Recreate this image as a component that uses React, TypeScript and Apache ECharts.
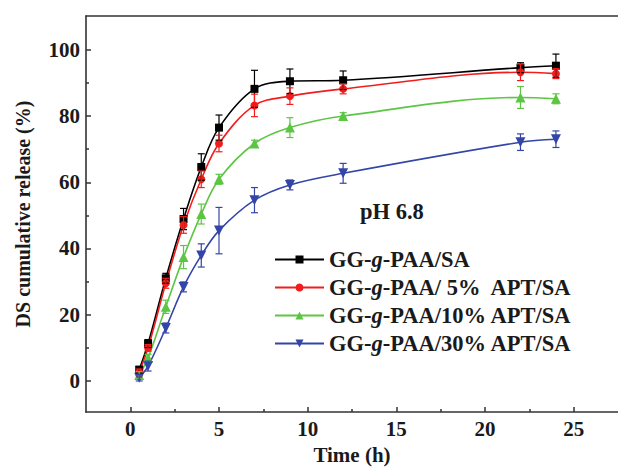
import React, { useEffect, useRef } from "react";
import * as echarts from "echarts";

const times = [0.5, 1, 2, 3, 4, 5, 7, 9, 12, 22, 24];

const seriesNames = [
  "GG-g-PAA/SA",
  "GG-g-PAA/ 5%  APT/SA",
  "GG-g-PAA/10% APT/SA",
  "GG-g-PAA/30% APT/SA",
];

const valuesSA = [3.4, 11.3, 31.0, 48.9, 64.6, 76.5, 88.2, 90.5, 90.8, 94.6, 95.2];
const errorsSA = [1.0, 1.2, 1.5, 3.2, 4.0, 3.8, 5.6, 3.7, 2.8, 1.5, 3.5];

const values5 = [2.6, 10.0, 29.5, 47.1, 60.9, 71.7, 83.2, 86.0, 88.2, 93.2, 92.8];
const errors5 = [1.0, 1.0, 1.5, 2.5, 2.5, 2.5, 3.4, 2.5, 1.5, 2.5, 1.5];

const values10 = [1.8, 7.0, 22.4, 37.4, 50.4, 60.9, 71.7, 76.5, 80.0, 85.6, 85.2];
const errors10 = [1.0, 1.0, 2.0, 3.5, 3.0, 1.5, 1.0, 3.0, 1.0, 3.3, 1.5];

const values30 = [1.0, 4.5, 16.0, 28.4, 37.9, 45.4, 54.6, 59.2, 62.7, 72.1, 73.0];
const errors30 = [1.0, 1.5, 1.5, 1.5, 3.5, 7.0, 3.8, 1.5, 3.0, 2.5, 2.5];

const xMajorTicks = [0, 5, 10, 15, 20, 25];
const xMinorTicks = [2.5, 7.5, 12.5, 17.5, 22.5];
const yMajorTicks = [0, 20, 40, 60, 80, 100];
const yMinorTicks = [10, 30, 50, 70, 90];

const yTitle = "DS cumulative release (%)";
const xTitle = "Time (h)";
const annotation = "pH 6.8";

const colors = ["#000000", "#f21d1d", "#5cc644", "#3445a8"];
const symbols = ["rect", "circle", "triangle", "triangle"];
const symbolRotates = [0, 0, 0, 180];
const symbolSizes = [8, 8, 10, 10];

const allValues = [valuesSA, values5, values10, values30];
const allErrors = [errorsSA, errors5, errors10, errors30];

const FONT = "Liberation Serif";
const TEXT = "#1a1a1a";
const AXIS = "#333333";

export default function App() {
  const ref = useRef<HTMLDivElement>(null);
  useEffect(() => {
    if (!ref.current) return;
    const chart = echarts.init(ref.current, null, { renderer: "svg" });

    const lineSeries = seriesNames.map((name, i) => ({
      name,
      type: "line",
      smooth: 0.35,
      symbol: symbols[i],
      symbolRotate: symbolRotates[i],
      symbolSize: symbolSizes[i],
      showSymbol: true,
      lineStyle: { color: colors[i], width: 1.6 },
      itemStyle: { color: colors[i] },
      data: times.map((t, k) => [t, allValues[i][k]]),
      z: 3,
    }));

    const errorSeries = seriesNames.map((name, i) => ({
      name: name + " error",
      type: "custom",
      data: times.map((t, k) => [t, allValues[i][k] - allErrors[i][k], allValues[i][k] + allErrors[i][k]]),
      encode: { x: 0, y: [1, 2] },
      z: 4,
      renderItem: (params: any, api: any) => {
        const x = api.value(0);
        const lo = api.coord([x, api.value(1)]);
        const hi = api.coord([x, api.value(2)]);
        const w = 3.5;
        const style = { stroke: colors[i], lineWidth: 1.2 };
        return {
          type: "group",
          children: [
            { type: "line", shape: { x1: hi[0], y1: hi[1], x2: lo[0], y2: lo[1] }, style },
            { type: "line", shape: { x1: hi[0] - w, y1: hi[1], x2: hi[0] + w, y2: hi[1] }, style },
            { type: "line", shape: { x1: lo[0] - w, y1: lo[1], x2: lo[0] + w, y2: lo[1] }, style },
          ],
        };
      },
    }));

    const labelStyle = { fontFamily: FONT, fontWeight: "bold", fontSize: 21, color: TEXT };
    const hiddenLine = { show: true, onZero: false, lineStyle: { color: AXIS, width: 0, opacity: 0 } };

    chart.setOption({
      animation: false,
      backgroundColor: "#ffffff",
      grid: { left: 86, top: 16, width: 535, height: 398, containLabel: false },
      legend: {
        data: seriesNames,
        orient: "vertical",
        left: 269,
        top: 243,
        itemWidth: 49,
        itemHeight: 10,
        itemGap: 5,
        formatter: (name: string) => name.replace("-g-", "-{i|g}-"),
        textStyle: {
          fontFamily: FONT,
          fontWeight: "bold",
          fontSize: 22.5,
          color: TEXT,
          lineHeight: 22,
          rich: {
            i: { fontFamily: FONT, fontWeight: "bold", fontStyle: "italic", fontSize: 22.5, color: TEXT, lineHeight: 22 },
          },
        },
      },
      graphic: [
        {
          type: "text",
          left: 360,
          top: 200,
          style: { text: annotation, fontFamily: FONT, fontWeight: "bold", fontSize: 22.5, fill: TEXT },
        },
        {
          type: "text",
          x: 23,
          y: 214,
          rotation: Math.PI / 2,
          style: {
            text: yTitle,
            fontFamily: FONT,
            fontWeight: "bold",
            fontSize: 20,
            fill: TEXT,
            align: "center",
            verticalAlign: "middle",
          },
        },
      ],
      xAxis: [
        {
          type: "value",
          min: -2.5,
          max: 27.5,
          position: "bottom",
          name: xTitle,
          nameLocation: "middle",
          nameGap: 27,
          nameTextStyle: { ...labelStyle, fontSize: 21 },
          axisLine: { show: true, onZero: false, lineStyle: { color: AXIS, width: 1.6 } },
          axisTick: { show: true, inside: true, length: 5, customValues: xMajorTicks, lineStyle: { color: AXIS, width: 1.5 } },
          axisLabel: { show: true, margin: 6, customValues: xMajorTicks, ...labelStyle },
          splitLine: { show: false },
        },
        {
          type: "value",
          min: -2.5,
          max: 27.5,
          position: "bottom",
          axisLine: hiddenLine,
          axisTick: { show: true, inside: true, length: 3, customValues: xMinorTicks, lineStyle: { color: AXIS, width: 1.5 } },
          axisLabel: { show: false },
          splitLine: { show: false },
        },
        {
          type: "value",
          min: -2.5,
          max: 27.5,
          position: "top",
          axisLine: { show: true, onZero: false, lineStyle: { color: AXIS, width: 1.6 } },
          axisTick: { show: false },
          axisLabel: { show: false },
          splitLine: { show: false },
        },
      ],
      yAxis: [
        {
          type: "value",
          min: -9.4,
          max: 110.2,
          position: "left",
          axisLine: { show: true, onZero: false, lineStyle: { color: AXIS, width: 1.6 } },
          axisTick: { show: true, inside: true, length: 5, customValues: yMajorTicks, lineStyle: { color: AXIS, width: 1.5 } },
          axisLabel: { show: true, margin: 6, customValues: yMajorTicks, ...labelStyle },
          splitLine: { show: false },
        },
        {
          type: "value",
          min: -9.4,
          max: 110.2,
          position: "left",
          axisLine: hiddenLine,
          axisTick: { show: true, inside: true, length: 3, customValues: yMinorTicks, lineStyle: { color: AXIS, width: 1.5 } },
          axisLabel: { show: false },
          splitLine: { show: false },
        },
      ],
      series: [...errorSeries, ...lineSeries],
    });
    return () => chart.dispose();
  }, []);
  return <div ref={ref} style={{ position: "fixed", left: 0, top: 0, width: 618, height: 470 }} />;
}
